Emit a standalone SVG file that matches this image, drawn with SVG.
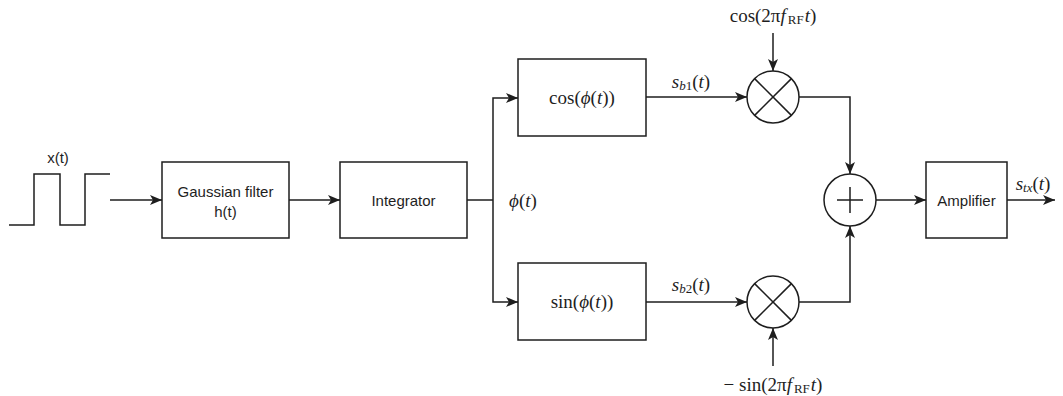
<svg xmlns="http://www.w3.org/2000/svg" width="1063" height="396" viewBox="0 0 1063 396">
  <style>
    .box { fill: #ffffff; stroke: #1e1e1e; stroke-width: 1.5; }
    .wire { fill: none; stroke: #1e1e1e; stroke-width: 1.5; }
    .arrow { marker-end: url(#head); }
    .lbl { font-family: "Liberation Sans", Arial, sans-serif; font-size: 15px; fill: #1e1e1e; text-anchor: middle; dominant-baseline: central; }
    .math { font-family: "Liberation Serif", "DejaVu Serif", serif; font-size: 19px; fill: #1e1e1e; text-anchor: middle; dominant-baseline: central; }
    .it { font-style: italic; }
    .sub { font-size: 13px; }
  </style>
  <defs>
    <marker id="head" viewBox="0 0 12 10" refX="12" refY="5" markerWidth="12" markerHeight="10" markerUnits="userSpaceOnUse" orient="auto">
      <path d="M0,0 L12,5 L0,10 L3,5 Z" fill="#1e1e1e"/>
    </marker>
  </defs>

  <!-- input square wave -->
  <g id="input">
    <path class="wire" d="M9,225 H34 V174 H60 V225 H85 V174 H110"/>
    <text class="lbl" x="58" y="157">x(t)</text>
  </g>

  <g id="gaussian">
    <rect class="box" x="162" y="162" width="127" height="76"/>
    <text class="lbl" x="225.5" y="191">Gaussian filter</text>
    <text class="lbl" x="225.5" y="211">h(t)</text>
  </g>

  <g id="integrator">
    <rect class="box" x="340" y="162" width="127" height="76"/>
    <text class="lbl" x="403.5" y="200">Integrator</text>
  </g>

  <g id="phase-label">
    <text class="math" x="523" y="200"><tspan class="it">ϕ</tspan>(<tspan class="it">t</tspan>)</text>
  </g>

  <g id="cos-block">
    <rect class="box" x="518" y="59" width="128" height="77"/>
    <text class="math" x="582" y="97">cos(<tspan class="it">ϕ</tspan>(<tspan class="it">t</tspan>))</text>
  </g>

  <g id="sin-block">
    <rect class="box" x="518" y="263" width="128" height="77"/>
    <text class="math" x="582" y="301">sin(<tspan class="it">ϕ</tspan>(<tspan class="it">t</tspan>))</text>
  </g>

  <g id="mixer-i">
    <circle class="box" cx="773" cy="97" r="26"/>
    <path class="wire" d="M754.6,78.6 L791.4,115.4 M791.4,78.6 L754.6,115.4"/>
    <text class="math" x="773" y="15">cos(2π<tspan class="it">f</tspan><tspan class="sub" dx="2" dy="4">RF</tspan><tspan class="it" dx="1" dy="-4">t</tspan>)</text>
  </g>

  <g id="mixer-q">
    <circle class="box" cx="773" cy="302" r="26"/>
    <path class="wire" d="M754.6,283.6 L791.4,320.4 M791.4,283.6 L754.6,320.4"/>
    <text class="math" x="773" y="384">− sin(2π<tspan class="it">f</tspan><tspan class="sub" dx="2" dy="4">RF</tspan><tspan class="it" dx="1" dy="-4">t</tspan>)</text>
  </g>

  <g id="summer">
    <circle class="box" cx="850" cy="200" r="26"/>
    <path class="wire" d="M837,200 H863 M850,187 V213"/>
  </g>

  <g id="amplifier">
    <rect class="box" x="926" y="162" width="81" height="76"/>
    <text class="lbl" x="966.5" y="200">Amplifier</text>
  </g>

  <g id="signal-labels">
    <text class="math" x="691" y="81"><tspan class="it">s</tspan><tspan class="sub it" dy="4">b</tspan><tspan class="sub">1</tspan><tspan dy="-4">(</tspan><tspan class="it">t</tspan>)</text>
    <text class="math" x="691" y="284"><tspan class="it">s</tspan><tspan class="sub it" dy="4">b</tspan><tspan class="sub">2</tspan><tspan dy="-4">(</tspan><tspan class="it">t</tspan>)</text>
    <text class="math" x="1033" y="183"><tspan class="it">s</tspan><tspan class="sub it" dy="4">tx</tspan><tspan dy="-4">(</tspan><tspan class="it">t</tspan>)</text>
  </g>

  <g id="connectors">
    <path class="wire arrow" d="M110,200 H162"/>
    <path class="wire arrow" d="M289,200 H340"/>
    <path class="wire" d="M467,200 H493"/>
    <path class="wire arrow" d="M493,200 V98 H518"/>
    <path class="wire arrow" d="M493,200 V302 H518"/>
    <path class="wire arrow" d="M646,97 H747"/>
    <path class="wire arrow" d="M646,302 H747"/>
    <path class="wire arrow" d="M773,33 V71"/>
    <path class="wire arrow" d="M773,366 V328"/>
    <path class="wire arrow" d="M799,97 H850 V174"/>
    <path class="wire arrow" d="M799,302 H850 V226"/>
    <path class="wire arrow" d="M876,200 H926"/>
    <path class="wire arrow" d="M1007,200 H1055"/>
  </g>
</svg>
